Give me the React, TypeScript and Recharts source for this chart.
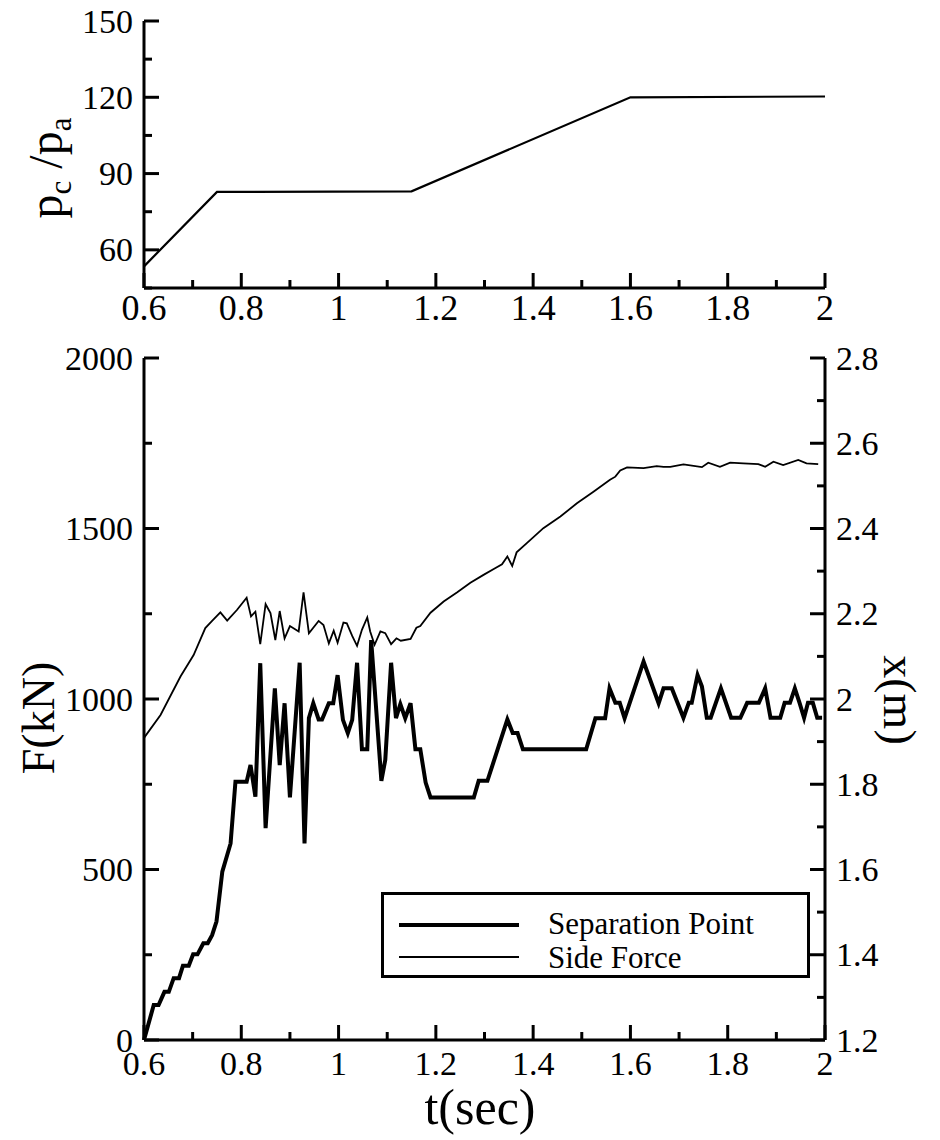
import React from 'react';
import { LineChart, Line, XAxis, YAxis, Legend } from 'recharts';

const FONT = "'Liberation Serif', 'Times New Roman', 'DejaVu Serif', serif";

// ---- top panel: chamber pressure ratio ----
const PC_T = [0.6, 0.75, 1.15, 1.6, 2.0];
const PC_V = [53.5, 82.8, 83.0, 120.0, 120.3];
const PC_Y_TICKS = [45, 60, 75, 90, 105, 120, 135, 150];

// ---- shared time ticks ----
const T_TICKS = [0.6, 0.7, 0.8, 0.9, 1.0, 1.1, 1.2, 1.3, 1.4, 1.5, 1.6, 1.7, 1.8, 1.9, 2.0];

// ---- bottom panel ----
const F_TICKS = [0, 250, 500, 750, 1000, 1250, 1500, 1750, 2000];
const XM_TICKS = [1.2, 1.3, 1.4, 1.5, 1.6, 1.7, 1.8, 1.9, 2.0, 2.1, 2.2, 2.3, 2.4, 2.5, 2.6, 2.7, 2.8];

// Side Force (kN) vs t
const SF_T = [
  0.6, 0.634, 0.675, 0.702, 0.726, 0.74, 0.757, 0.771, 0.791, 0.811, 0.82, 0.829, 0.839, 0.85, 0.86,
  0.87, 0.879, 0.889, 0.9, 0.918, 0.928, 0.939, 0.959, 0.969, 0.98, 0.99, 0.998, 1.01, 1.017, 1.028,
  1.038, 1.048, 1.059, 1.065, 1.074, 1.086, 1.096, 1.108, 1.119, 1.128, 1.148, 1.16, 1.168, 1.189,
  1.216, 1.244, 1.271, 1.298, 1.319, 1.336, 1.347, 1.357, 1.366, 1.387, 1.421, 1.456, 1.49, 1.524,
  1.558, 1.569, 1.579, 1.593, 1.627, 1.654, 1.668, 1.682, 1.709, 1.747, 1.76, 1.784, 1.805, 1.832,
  1.863, 1.877, 1.894, 1.914, 1.945, 1.962, 1.986,
];
const SF_F = [
  886, 953, 1066, 1129, 1208, 1229, 1254, 1230, 1261, 1297, 1242, 1256, 1161, 1278, 1252,
  1173, 1258, 1178, 1214, 1198, 1313, 1193, 1229, 1217, 1163, 1200, 1165, 1224, 1222, 1185,
  1156, 1203, 1239, 1198, 1159, 1198, 1193, 1161, 1178, 1171, 1176, 1209, 1214, 1253,
  1286, 1313, 1341, 1364, 1381, 1395, 1418, 1390, 1430, 1457, 1501, 1535, 1574, 1608,
  1643, 1652, 1670, 1679, 1677, 1683, 1681, 1681, 1688, 1680, 1693, 1681, 1693, 1691,
  1689, 1681, 1696, 1686, 1701, 1691, 1689,
];

// Separation Point x (m) vs t
const SP_T = [
  0.6, 0.62, 0.63, 0.642, 0.651, 0.661, 0.672, 0.68, 0.692, 0.701, 0.71, 0.722, 0.731, 0.74, 0.749,
  0.761, 0.778, 0.788, 0.811, 0.819, 0.829, 0.839, 0.85, 0.869, 0.879, 0.889, 0.9, 0.92, 0.93, 0.939,
  0.948, 0.959, 0.966, 0.98, 0.989, 0.998, 1.009, 1.019, 1.028, 1.038, 1.048, 1.059, 1.067, 1.088,
  1.096, 1.108, 1.118, 1.127, 1.137, 1.148, 1.158, 1.168, 1.179, 1.189, 1.278, 1.288, 1.306, 1.347,
  1.358, 1.368, 1.379, 1.509, 1.528, 1.548, 1.557, 1.569, 1.578, 1.588, 1.627, 1.658, 1.668, 1.685,
  1.709, 1.72, 1.726, 1.738, 1.747, 1.757, 1.765, 1.786, 1.807, 1.826, 1.84, 1.864, 1.877, 1.888,
  1.908, 1.917, 1.928, 1.938, 1.948, 1.957, 1.965, 1.975, 1.984, 1.994,
];
const SP_X = [
  1.2, 1.282, 1.282, 1.313, 1.313, 1.345, 1.345, 1.374, 1.374, 1.401, 1.401, 1.427, 1.427, 1.446, 1.478,
  1.595, 1.661, 1.806, 1.806, 1.845, 1.771, 2.084, 1.697, 2.025, 1.845, 1.99, 1.769, 2.085, 1.661, 1.955,
  1.99, 1.952, 1.952, 1.99, 1.99, 2.056, 1.951, 1.92, 1.951, 2.085, 1.882, 1.882, 2.138, 1.808,
  1.857, 2.085, 1.955, 1.988, 1.955, 1.99, 1.882, 1.882, 1.804, 1.769, 1.769, 1.808, 1.808, 1.952,
  1.92, 1.92, 1.882, 1.882, 1.955, 1.955, 2.025, 1.991, 1.991, 1.955, 2.088, 1.99, 2.025, 2.025,
  1.956, 1.991, 1.991, 2.056, 2.029, 1.956, 1.956, 2.025, 1.956, 1.956, 1.991, 1.991, 2.025, 1.956,
  1.956, 1.991, 1.991, 2.025, 1.99, 1.956, 1.991, 1.991, 1.956, 1.956,
];

const PC_DATA = PC_T.map((t, i) => ({ t, p: PC_V[i] }));
const SF_DATA = SF_T.map((t, i) => ({ t, F: SF_F[i] }));
const SP_DATA = SP_T.map((t, i) => ({ t, x: SP_X[i] }));

type Side = 'bottom' | 'top' | 'left' | 'right';

const txtStyle = (fontSize: number) => ({ fontFamily: FONT, fontSize, fill: '#000' });

function makeTick(side: Side, step: number, fontSize: number, gap: number, showLabel: boolean) {
  return function Tick(props: any) {
    const { x, y, payload } = props;
    const v = Number(payload.value);
    const r = v / step;
    const isMajor = Math.abs(r - Math.round(r)) < 1e-6;
    const len = isMajor ? 15 : 8;
    const fmt = String(Math.round(v * 100) / 100);
    let x2 = x;
    let y2 = y;
    if (side === 'bottom') y2 = y - len;
    if (side === 'top') y2 = y + len;
    if (side === 'left') x2 = x + len;
    if (side === 'right') x2 = x - len;
    let label: any = null;
    if (showLabel && isMajor) {
      if (side === 'bottom')
        label = (
          <text x={x} y={y + gap} textAnchor="middle" style={txtStyle(fontSize)}>
            {fmt}
          </text>
        );
      if (side === 'left')
        label = (
          <text x={x - gap} y={y} dy="0.34em" textAnchor="end" style={txtStyle(fontSize)}>
            {fmt}
          </text>
        );
      if (side === 'right')
        label = (
          <text x={x + gap} y={y} dy="0.34em" textAnchor="start" style={txtStyle(fontSize)}>
            {fmt}
          </text>
        );
    }
    return (
      <g>
        <line x1={x} y1={y} x2={x2} y2={y2} stroke="#000" strokeWidth={3} />
        {label}
      </g>
    );
  };
}

const AXIS_LINE = { stroke: '#000', strokeWidth: 3 };

const renderLegend = () => (
  <svg width={429} height={86} style={{ display: 'block' }}>
    <rect x={1.5} y={1.5} width={426} height={83} fill="#fff" stroke="#000" strokeWidth={3} />
    <line x1={18} x2={138} y1={33} y2={33} stroke="#000" strokeWidth={4} />
    <text x={167} y={42} style={txtStyle(31)}>
      Separation Point
    </text>
    <line x1={18} x2={138} y1={65} y2={65} stroke="#000" strokeWidth={1.8} />
    <text x={167} y={76} style={txtStyle(31)}>
      Side Force
    </text>
  </svg>
);

function TopChart() {
  return (
    <LineChart width={940} height={330} margin={{ top: 21, right: 115, bottom: 0, left: 0 }}>
      <XAxis
        xAxisId="b"
        dataKey="t"
        type="number"
        domain={[0.6, 2]}
        ticks={T_TICKS}
        interval={0}
        height={42}
        tickSize={0}
        tickMargin={0}
        axisLine={AXIS_LINE}
        tick={makeTick('bottom', 0.2, 36, 32, true)}
      />
      <XAxis
        xAxisId="t"
        orientation="top"
        dataKey="t"
        type="number"
        domain={[0.6, 2]}
        ticks={T_TICKS}
        interval={0}
        height={0}
        tickSize={0}
        tickMargin={0}
        axisLine={AXIS_LINE}
        tick={makeTick('top', 0.2, 36, 0, false)}
      />
      <YAxis
        yAxisId="l"
        type="number"
        domain={[45, 150]}
        ticks={PC_Y_TICKS}
        interval={0}
        width={144}
        tickSize={0}
        tickMargin={0}
        axisLine={AXIS_LINE}
        tick={makeTick('left', 30, 34, 11, true)}
      />
      <YAxis
        yAxisId="r"
        orientation="right"
        type="number"
        domain={[45, 150]}
        ticks={PC_Y_TICKS}
        interval={0}
        width={0}
        tickSize={0}
        tickMargin={0}
        axisLine={AXIS_LINE}
        tick={makeTick('right', 30, 34, 11, false)}
      />
      <Line
        xAxisId="b"
        yAxisId="l"
        data={PC_DATA}
        dataKey="p"
        type="linear"
        stroke="#000"
        strokeWidth={2.2}
        dot={false}
        isAnimationActive={false}
      />
    </LineChart>
  );
}

function BottomChart() {
  return (
    <LineChart width={940} height={810} margin={{ top: 28, right: 0, bottom: 0, left: 0 }}>
      <XAxis
        xAxisId="b"
        dataKey="t"
        type="number"
        domain={[0.6, 2]}
        ticks={T_TICKS}
        interval={0}
        height={100}
        tickSize={0}
        tickMargin={0}
        axisLine={AXIS_LINE}
        tick={makeTick('bottom', 0.2, 34, 35, true)}
      />
      <XAxis
        xAxisId="t"
        orientation="top"
        dataKey="t"
        type="number"
        domain={[0.6, 2]}
        ticks={T_TICKS}
        interval={0}
        height={0}
        tickSize={0}
        tickMargin={0}
        axisLine={AXIS_LINE}
        tick={makeTick('top', 0.2, 34, 0, false)}
      />
      <YAxis
        yAxisId="l"
        type="number"
        domain={[0, 2000]}
        ticks={F_TICKS}
        interval={0}
        width={144}
        tickSize={0}
        tickMargin={0}
        axisLine={AXIS_LINE}
        tick={makeTick('left', 500, 34, 11, true)}
      />
      <YAxis
        yAxisId="r"
        orientation="right"
        type="number"
        domain={[1.2, 2.8]}
        ticks={XM_TICKS}
        interval={0}
        width={115}
        tickSize={0}
        tickMargin={0}
        axisLine={AXIS_LINE}
        tick={makeTick('right', 0.2, 34, 11, true)}
      />
      <Line
        xAxisId="b"
        yAxisId="r"
        data={SP_DATA}
        dataKey="x"
        name="Separation Point"
        type="linear"
        stroke="#000"
        strokeWidth={4}
        dot={false}
        isAnimationActive={false}
      />
      <Line
        xAxisId="b"
        yAxisId="l"
        data={SF_DATA}
        dataKey="F"
        name="Side Force"
        type="linear"
        stroke="#000"
        strokeWidth={1.8}
        dot={false}
        isAnimationActive={false}
      />
      <Legend
        layout="horizontal"
        verticalAlign="middle"
        align="center"
        width={429}
        height={86}
        wrapperStyle={{ left: 381, top: 562, width: 429, height: 86 }}
        content={renderLegend}
      />
    </LineChart>
  );
}

export default function App() {
  return (
    <div style={{ position: 'absolute', left: 0, top: 0, width: 940, height: 1140, background: '#fff' }}>
      <div style={{ position: 'absolute', left: 0, top: 0 }}>
        <TopChart />
      </div>
      <div style={{ position: 'absolute', left: 0, top: 330 }}>
        <BottomChart />
      </div>
      <svg
        width={940}
        height={1140}
        style={{ position: 'absolute', left: 0, top: 0, pointerEvents: 'none' }}
      >
        <text transform="translate(62,168) rotate(-90)" textAnchor="middle" style={txtStyle(48)}>
          p<tspan style={{ fontSize: 31 }} dy={9}>c</tspan>
          <tspan dy={-9}> /p</tspan>
          <tspan style={{ fontSize: 31 }} dy={9}>a</tspan>
        </text>
        <text transform="translate(38,718) rotate(-90)" textAnchor="middle" dy="0.34em" style={txtStyle(46)}>
          F(kN)
        </text>
        <text transform="translate(900,700) rotate(90)" textAnchor="middle" dy="0.34em" style={txtStyle(46)}>
          x(m)
        </text>
        <text x={480} y={1124} textAnchor="middle" style={txtStyle(50)}>
          t(sec)
        </text>
      </svg>
    </div>
  );
}
